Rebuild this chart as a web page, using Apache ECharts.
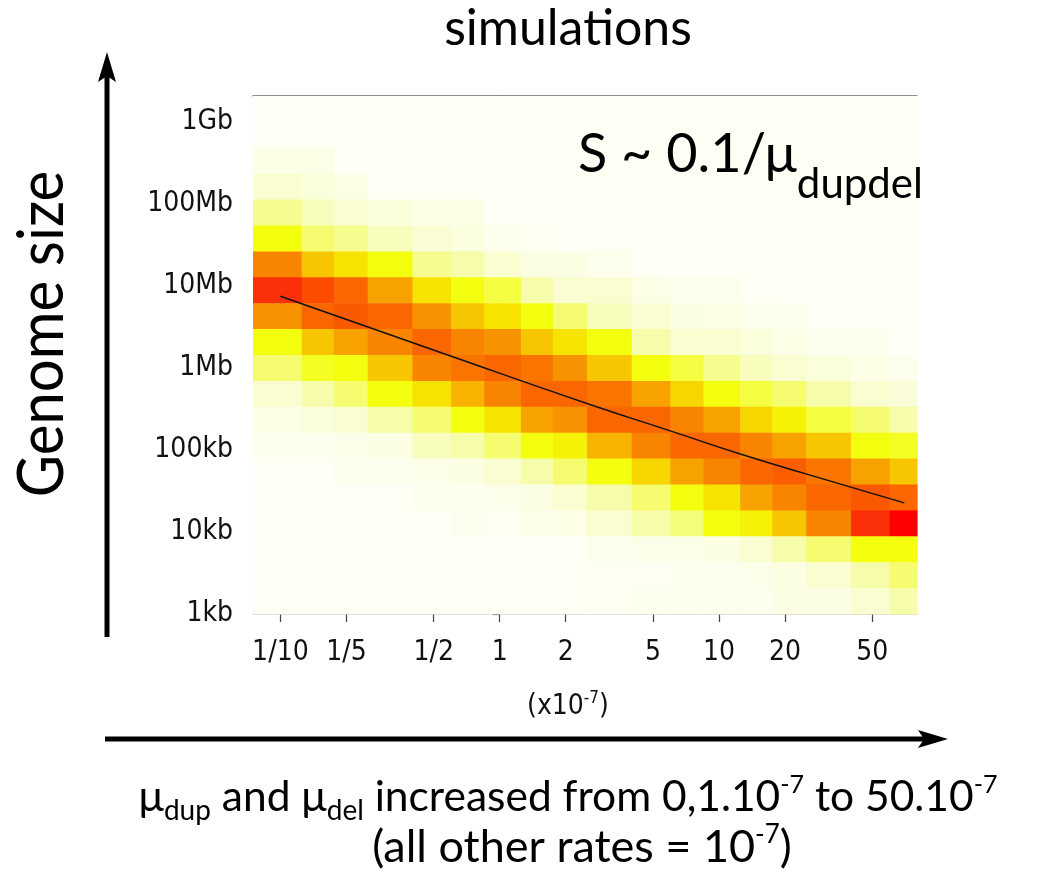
<!DOCTYPE html>
<html>
<head>
<meta charset="utf-8">
<style>
html,body{margin:0;padding:0;background:#fff;}
#chart{width:1037px;height:869px;}
</style>
<script src="https://cdn.jsdelivr.net/npm/echarts@6/dist/echarts.min.js"></script>
</head>
<body>
<div id="chart"></div>
<script>
// ---- data ----
// mutation-rate columns (x10^-7)
var xValues = [0.1, 0.15, 0.2, 0.3, 0.5, 0.7, 1, 1.5, 2, 3, 5, 7, 10, 15, 20, 30, 50, 70];
var xTickValues = [0.1, 0.2, 0.5, 1, 2, 5, 10, 20, 50];
var xTickLabels = ['1/10', '1/5', '1/2', '1', '2', '5', '10', '20', '50'];
// genome size axis (log10 of bp)
var yTickValues = [3, 4, 5, 6, 7, 8, 9];
var yTickLabels = ['1kb', '10kb', '100kb', '1Mb', '10Mb', '100Mb', '1Gb'];
var yBinStart = 3;          // log10(1kb)
var yBinWidth = 6 / 19;     // log10 width of one size bin
// density (colour level) per row, top row first, one value per column
var density = [
  [0,0,0,0,0,0,0,0,0,0,0,0,0,0,0,0,0,0],
  [0,0,0,0,0,0,0,0,0,0,0,0,0,0,0,0,0,0],
  [1,1,0,0,0,0,0,0,0,0,0,0,0,0,0,0,0,0],
  [2,1.5,1,0,0,0,0,0,0,0,0,0,0,0,0,0,0,0],
  [3.5,2.5,2,1.5,1,1,0,0,0,0,0,0,0,0,0,0,0,0],
  [5,4,3.5,2.5,1.8,1.3,0.7,0.3,0,0,0,0,0,0,0,0,0,0],
  [9,7,6,5,3.5,3,2,1.2,1.2,0.6,0,0,0,0,0,0,0,0],
  [12,11,10,8,6,5,4.5,3,2,2,1,0.7,0.7,0,0,0,0,0],
  [8.5,10,10.5,10,8.5,7,6,5,4,2.5,2,1.2,1,0.7,0.5,0,0,0],
  [5,7,8,9,10,9,8.5,7,6,5,3,2,2,1.5,1,0.5,0.5,0],
  [4,4.8,5,7,9,9.5,10,9.5,8.5,7,5,4.5,3.5,2.5,2,1.5,1,0.7],
  [2,3,4,5,6,7.5,9,10,10,9.5,8,6.5,5,4.5,4,3,2,1.7],
  [1,1.5,2,3,4,5,6,8,8.5,10,10,9,8,6.5,5.5,4.5,4,3],
  [0.5,0.5,0.8,1.2,2.5,3,4,5,5.5,7.5,9,10,10,9,8,7,5,4.8],
  [0,0,0.5,0.5,0.8,1.2,2,3,4,5,6.5,8,9,10,10.3,9.5,8,7],
  [0,0,0,0,0.5,0.5,0.8,1.2,2,3,4,5,6,8,9,10,10.5,10],
  [0,0,0,0,0,0.5,0.3,0.8,1,2,3,3.8,5,5.5,7,9,12,13],
  [0,0,0,0,0,0,0,0,0,0.5,0.8,0.8,1.2,2,3,4,5,5],
  [0,0,0,0,0,0,0,0,0,0.3,0.2,0.5,0.5,0.8,1.2,2,3,4],
  [0,0,0,0,0,0,0,0,0,0.3,0.5,0.5,0.5,0.7,1.2,1.2,2,3]
];
// fitted curve S ~ 0.1/mu (x in 10^-7, y in bp)
var fitX = [0.1, 0.575, 2.6, 6.0, 12.4, 39.9, 70];
var fitY = [7.48e6, 1.45e6, 3.56e5, 1.71e5, 9.0e4, 3.52e4, 2.26e4];

// ---- build the options ----
var L = Math.log10;
// column edges: midpoints between neighbouring columns
var xEdges = [];
xEdges.push(xValues[0] - (xValues[1] - xValues[0]) / 2);
for (var i = 0; i < xValues.length - 1; i++) xEdges.push((xValues[i] + xValues[i + 1]) / 2);
xEdges.push(xValues[xValues.length - 1] + (xValues[xValues.length - 1] - xValues[xValues.length - 2]) / 2);

var nRows = density.length;
var cells = [];
for (var r = 0; r < nRows; r++) {
  var rowIdx = nRows - 1 - r; // 0 = bottom bin
  var ylo = yBinStart + rowIdx * yBinWidth;
  var yhi = ylo + yBinWidth;
  for (var c = 0; c < xValues.length; c++) {
    cells.push([L(xEdges[c]), L(xEdges[c + 1]), ylo, yhi, density[r][c]]);
  }
}
var fitData = fitX.map(function (x, k) { return [L(x), L(fitY[k])]; });
var xMin = L(xEdges[0]), xMax = L(xEdges[xEdges.length - 1]);
var yMax = yBinStart + nRows * yBinWidth;

function nearestLabel(v, vals, labels) {
  for (var k = 0; k < vals.length; k++) if (Math.abs(vals[k] - v) < 1e-6) return labels[k];
  return '';
}
var xTickLog = xTickValues.map(L);

var tickFont = 'DejaVu Sans Condensed, DejaVu Sans';
var textFont = 'Lato, Open Sans, sans-serif';

var chart = echarts.init(document.getElementById('chart'));
chart.setOption({
  animation: false,
  backgroundColor: '#ffffff',
  grid: { left: 253, right: 120, top: 96, bottom: 255 },
  visualMap: {
    show: false, type: 'continuous', dimension: 4, min: 0, max: 13, seriesIndex: 0,
    inRange: { color: ['#fefff5','#fcfee6','#f9fdd0','#f7fcaa','#f5fc70','#f4ff10','#f6e400',
                       '#f8c600','#f8a200','#f88400','#fa6600','#fb4c00','#fb3008','#ff0000'] }
  },
  xAxis: [{
    type: 'value', min: xMin, max: xMax, position: 'bottom',
    splitLine: { show: false },
    axisLine: { show: true, lineStyle: { color: '#b4b4b4', width: 1.5 } },
    axisTick: { show: true, length: 8, customValues: xTickLog, lineStyle: { color: '#444', width: 1.2 } },
    axisLabel: { customValues: xTickLog, margin: 25, fontSize: 28, fontFamily: tickFont, color: '#111',
      formatter: function (v) { return nearestLabel(v, xTickLog, xTickLabels); } }
  }, {
    type: 'value', min: xMin, max: xMax, position: 'top',
    splitLine: { show: false }, axisTick: { show: false }, axisLabel: { show: false },
    axisLine: { show: true, lineStyle: { color: '#6a6a6a', width: 1.5 } }
  }],
  yAxis: {
    type: 'value', min: yBinStart, max: yMax,
    splitLine: { show: false },
    axisLine: { show: true, lineStyle: { color: '#8a8a8a', width: 1.5 } },
    axisTick: { show: true, length: 7, customValues: yTickValues, lineStyle: { color: '#444', width: 1.2 } },
    axisLabel: { customValues: yTickValues, margin: 20, fontSize: 28, fontFamily: tickFont, color: '#111',
      formatter: function (v) { return nearestLabel(v, yTickValues, yTickLabels); } }
  },
  series: [{
    type: 'custom',
    encode: { x: [0, 1], y: [2, 3] },
    data: cells,
    renderItem: function (params, api) {
      var p1 = api.coord([api.value(0), api.value(3)]);
      var p2 = api.coord([api.value(1), api.value(2)]);
      return {
        type: 'rect',
        shape: { x: p1[0], y: p1[1], width: p2[0] - p1[0] + 0.6, height: p2[1] - p1[1] + 0.6 },
        style: { fill: api.visual('color') }
      };
    },
    z: 1
  }, {
    type: 'line', data: fitData, showSymbol: false, smooth: true, z: 5,
    lineStyle: { color: '#111', width: 1.4 }
  }],
  graphic: [
    { type: 'text', z: 100, x: 568, y: 29, style: { text: 'simulations', fontSize: 50, fontFamily: textFont, fill: '#000', align: 'center', verticalAlign: 'middle' } },
    { type: 'text', z: 100, x: 42, y: 334, rotation: Math.PI / 2, scaleY: 1.1, style: { text: 'Genome size', fontSize: 58, fontFamily: textFont, fill: '#000', align: 'center', verticalAlign: 'middle' } },
    { type: 'line', z: 100, shape: { x1: 107, y1: 637, x2: 107, y2: 72 }, style: { stroke: '#000', lineWidth: 5 } },
    { type: 'polygon', z: 100, shape: { points: [[107, 52], [98, 82], [107, 76], [116, 82]] }, style: { fill: '#000' } },
    { type: 'line', z: 100, shape: { x1: 105, y1: 739, x2: 928, y2: 739 }, style: { stroke: '#000', lineWidth: 5 } },
    { type: 'polygon', z: 100, shape: { points: [[948, 739], [918, 730], [924, 739], [918, 748]] }, style: { fill: '#000' } },
    { type: 'text', z: 100, x: 568, y: 707, style: { text: '(x10{sup|-7})', fontSize: 28, fontFamily: tickFont, fill: '#111', align: 'center', verticalAlign: 'middle',
        rich: { sup: { fontSize: 17, fontFamily: tickFont, fill: '#111', padding: [0, 0, 16, 0] } } } },
    { type: 'text', z: 100, x: 578, y: 155, style: { text: 'S ~ 0.1/μ{sub|dupdel}', fontSize: 54, fontFamily: textFont, fill: '#000', align: 'left', verticalAlign: 'middle',
        rich: { sub: { fontSize: 42, fontFamily: textFont, fill: '#000', padding: [58, 0, 0, 0] } } } },
    { type: 'text', z: 100, x: 568, y: 797, style: { text: 'μ{sub|dup} and μ{sub|del} increased from 0,1.10{sup|-7} to 50.10{sup|-7}', fontSize: 42.5, fontFamily: textFont, fill: '#000', align: 'center', verticalAlign: 'middle',
        rich: { sub: { fontSize: 28, fontFamily: textFont, fill: '#000', padding: [28, 0, 0, 0] },
                sup: { fontSize: 25, fontFamily: textFont, fill: '#000', padding: [0, 0, 24, 0] } } } },
    { type: 'text', z: 100, x: 582, y: 847, style: { text: '(all other rates = 10{sup|-7})', fontSize: 45, fontFamily: textFont, fill: '#000', align: 'center', verticalAlign: 'middle',
        rich: { sup: { fontSize: 26, fontFamily: textFont, fill: '#000', padding: [0, 0, 25, 0] } } } }
  ]
});
</script>
</body>
</html>
